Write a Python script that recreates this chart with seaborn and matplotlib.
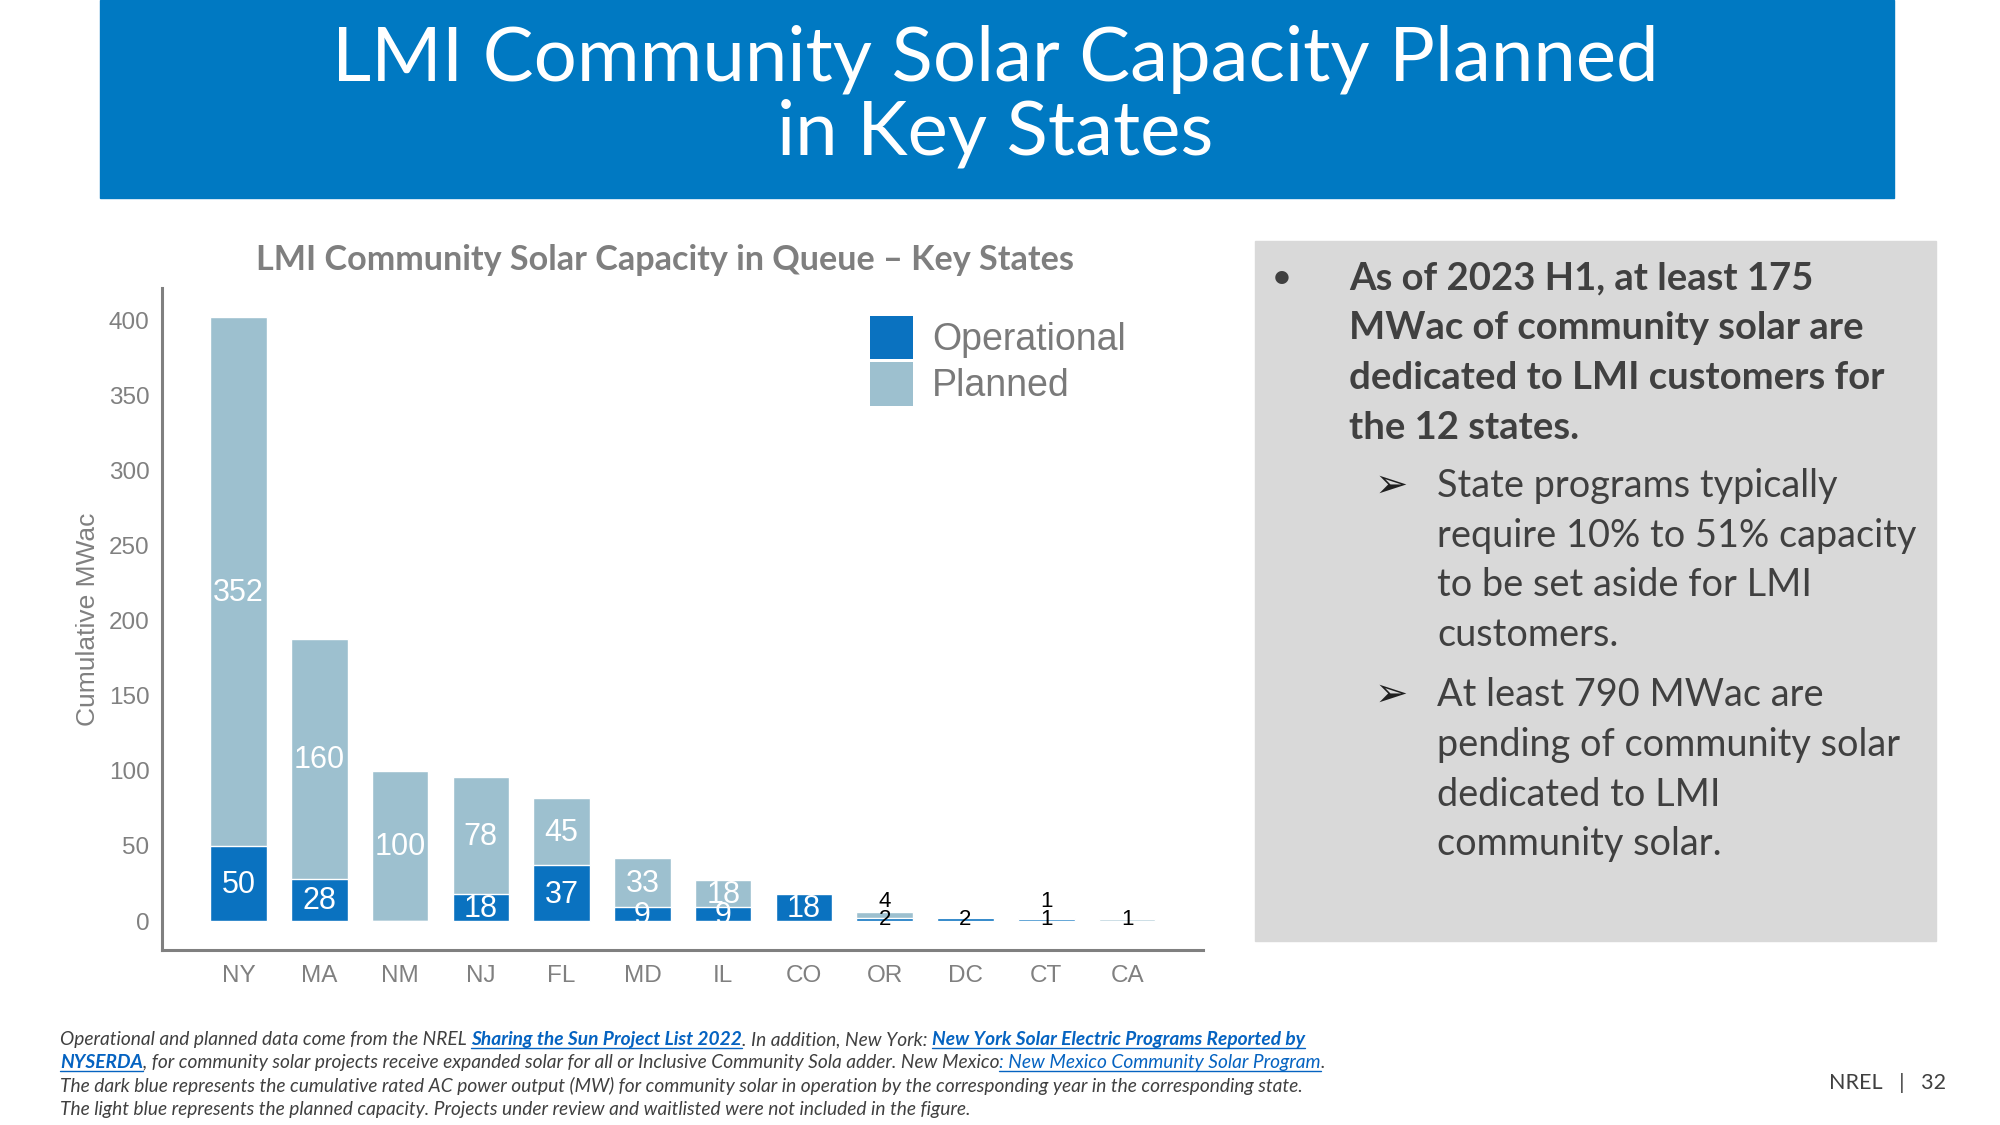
import matplotlib
matplotlib.use("Agg")
import matplotlib.pyplot as plt
import seaborn as sns
import pandas as pd
from matplotlib.patches import Rectangle, Patch
from matplotlib.lines import Line2D

# ---------------- data ----------------
states = ["NY", "MA", "NM", "NJ", "FL", "MD", "IL", "CO", "OR", "DC", "CT", "CA"]
operational = [50, 28, 0, 18, 37, 9, 9, 18, 2, 2, 1, 0]
planned = [352, 160, 100, 78, 45, 33, 18, 0, 4, 0, 1, 1]
series_names = ["Operational", "Planned"]
y_ticks = [0, 50, 100, 150, 200, 250, 300, 350, 400]

title_lines = ["LMI Community Solar Capacity Planned", "in Key States"]
chart_title = "LMI Community Solar Capacity in Queue \u2013 Key States"
y_label = "Cumulative MWac"

main_bullet = ["As of 2023 H1, at least 175", "MWac of community solar are",
               "dedicated to LMI customers for", "the 12 states."]
sub_bullet_1 = ["State programs typically", "require 10% to 51% capacity",
                "to be set aside for LMI", "customers."]
sub_bullet_2 = ["At least 790 MWac are", "pending of community solar",
                "dedicated to LMI", "community solar."]

footnote = [
    [("Operational and planned data come from the NREL ", "n"),
     ("Sharing the Sun Project List 2022", "L"),
     (". In addition, New York: ", "n"),
     ("New York Solar Electric Programs Reported by", "L")],
    [("NYSERDA", "L"),
     (", for community solar projects receive expanded solar for all or Inclusive Community Sola adder. New Mexico", "n"),
     (": New Mexico Community Solar Program", "l"),
     (".", "n")],
    [("The dark blue represents the cumulative rated AC power output (MW) for community solar in operation by the corresponding year in the corresponding state.", "n")],
    [("The light blue represents the planned capacity. Projects under review and waitlisted were not included in the figure.", "n")],
]
page_footer = "NREL   |   32"

# ---------------- style ----------------
W, H = 2000, 1125
OP_COLOR = "#0A72C0"
PL_COLOR = "#9DC0CF"
GRAY = "#808080"
TEXT_DARK = "#404040"
LINK = "#0563C1"
ARIAL = ["Liberation Sans", "DejaVu Sans"]
CAL = ["Lato", "DejaVu Sans"]

sns.set_style("white")
plt.rcParams["font.family"] = ARIAL

fig = plt.figure(figsize=(20, 11.25), dpi=100)
fig.patch.set_facecolor("white")
r = fig.canvas.get_renderer()


def fx(x):
    return x / W


def fy(y):
    return 1 - y / H


def tw(t):
    return t.get_window_extent(renderer=r).width


def fit(texts, idx, target):
    s = texts[idx].get_fontsize() * target / tw(texts[idx])
    for t in texts:
        t.set_fontsize(s)
    return s


# banner
fig.add_artist(Rectangle((fx(100), fy(198)), (1894 - 100) / W, 198 / H,
                         transform=fig.transFigure, color="#0079C2", zorder=0))
tl = [fig.text(fx(995), fy(80), title_lines[0], color="white", family=CAL,
               fontsize=56, ha="center", va="baseline"),
      fig.text(fx(995), fy(155), title_lines[1], color="white", family=CAL,
               fontsize=56, ha="center", va="baseline")]
fit(tl, 0, 1325)

# right panel
fig.add_artist(Rectangle((fx(1255), fy(941)), (1936 - 1255) / W, (941 - 241) / H,
                         transform=fig.transFigure, color="#D9D9D9", zorder=0))
mb = [fig.text(fx(1349), fy(b), s, color=TEXT_DARK, family=CAL, fontweight="bold",
               fontsize=28, ha="left", va="baseline")
      for s, b in zip(main_bullet, [289, 339, 389, 439])]
msize = fit(mb, 2, 536)
fig.text(fx(1282), fy(287), "\u2022", color=TEXT_DARK, family=CAL, fontweight="bold",
         fontsize=msize * 0.8, ha="center", va="baseline")
sb = [fig.text(fx(1437), fy(b), s, color=TEXT_DARK, family=CAL,
               fontsize=28, ha="left", va="baseline")
      for s, b in zip(sub_bullet_1 + sub_bullet_2,
                      [497, 547, 596, 646, 706, 756, 806, 855])]
ssize = fit(sb, 1, 479)
for b in (497, 706):
    fig.text(fx(1391), fy(b), "\u27A2", color="#202020", family=["DejaVu Sans"],
             fontsize=ssize * 1.05, ha="center", va="baseline")

# ---------------- chart ----------------
df = pd.DataFrame({"state": states, "operational": operational, "planned": planned})
df["total"] = df["operational"] + df["planned"]

ax = fig.add_axes([fx(162), fy(950), (1203 - 162) / W, (950 - 288) / H])
sns.barplot(data=df, x="state", y="total", color=PL_COLOR, saturation=1,
            width=0.7, errorbar=None, ax=ax, order=states)
sns.barplot(data=df, x="state", y="operational", color=OP_COLOR, saturation=1,
            width=0.7, errorbar=None, ax=ax, order=states)
ax.set_xlim(-0.947, 11.94)
ax.set_ylim(-19.3, 421.3)
ax.set_yticks(y_ticks)
ax.set_yticklabels([str(v) for v in y_ticks])
ax.tick_params(axis="both", length=0, labelsize=17.5, labelcolor=GRAY)
ax.tick_params(axis="y", pad=9)
ax.tick_params(axis="x", pad=10.5)
ax.set_xlabel("")
ax.set_ylabel(y_label, fontsize=19, color=GRAY)
ax.yaxis.set_label_coords(-0.06, 0.5)
sns.despine(ax=ax)
for side in ("left", "bottom"):
    ax.spines[side].set_color(GRAY)
    ax.spines[side].set_linewidth(2.2)
ax.set_facecolor("none")

# bar value labels
for i, row in df.iterrows():
    segs = [(row["operational"], 0), (row["planned"], row["operational"])]
    for val, bottom in segs:
        if val <= 0:
            continue
        if val >= 5:
            ax.text(i, bottom + val / 2 - (8 if val > 300 else 1), str(val),
                    ha="center", va="center", color="white", fontsize=22)
        else:
            ypos = 1.0 if bottom == 0 else 13.0
            ax.text(i, ypos, str(val), ha="center", va="center",
                    color="black", fontsize=16)

ax.legend(handles=[Patch(facecolor=OP_COLOR, edgecolor="none", label=series_names[0]),
                   Patch(facecolor=PL_COLOR, edgecolor="none", label=series_names[1])],
          loc="upper left", bbox_to_anchor=(fx(870), fy(316)),
          bbox_transform=fig.transFigure, frameon=False, fontsize=27,
          handlelength=1.15, handleheight=1.4, handletextpad=0.5,
          labelspacing=0.08, borderpad=0, borderaxespad=0, labelcolor="#7A7A7A")

# chart title
ct = fig.text(fx(665), fy(270), chart_title, color="#7F7F7F", family=CAL,
              fontweight="bold", fontsize=23, ha="center", va="baseline")
fit([ct], 0, 819)

# ---------------- footnote ----------------
probe = fig.text(0, 0, footnote[2][0][0], family=CAL, style="italic", fontsize=13)
fsize = 13 * 1244 / tw(probe)
probe.remove()

styles = {
    "n": dict(color=TEXT_DARK, fontweight="normal"),
    "L": dict(color=LINK, fontweight="bold"),
    "l": dict(color=LINK, fontweight="normal"),
}


def seg_width(s, props):
    t = fig.text(0, 0, s + "|", family=CAL, style="italic", fontsize=fsize, **props)
    w1 = tw(t)
    t.set_text("|")
    w2 = tw(t)
    t.remove()
    return w1 - w2


for line, base in zip(footnote, [1045, 1068, 1092, 1115]):
    x = 60.0
    for s, k in line:
        props = styles[k]
        fig.text(fx(x), fy(base), s, family=CAL, style="italic", fontsize=fsize,
                 ha="left", va="baseline", **props)
        w = seg_width(s, props)
        if k in ("L", "l"):
            fig.add_artist(Line2D([fx(x), fx(x + w)], [fy(base + 3), fy(base + 3)],
                                  transform=fig.transFigure, color=LINK, lw=1.0))
        x += w

fig.text(fx(1829), fy(1089), page_footer, family=CAL, fontsize=fsize * 1.12,
         color=TEXT_DARK, ha="left", va="baseline")

fig.savefig("out.png", dpi=100)
